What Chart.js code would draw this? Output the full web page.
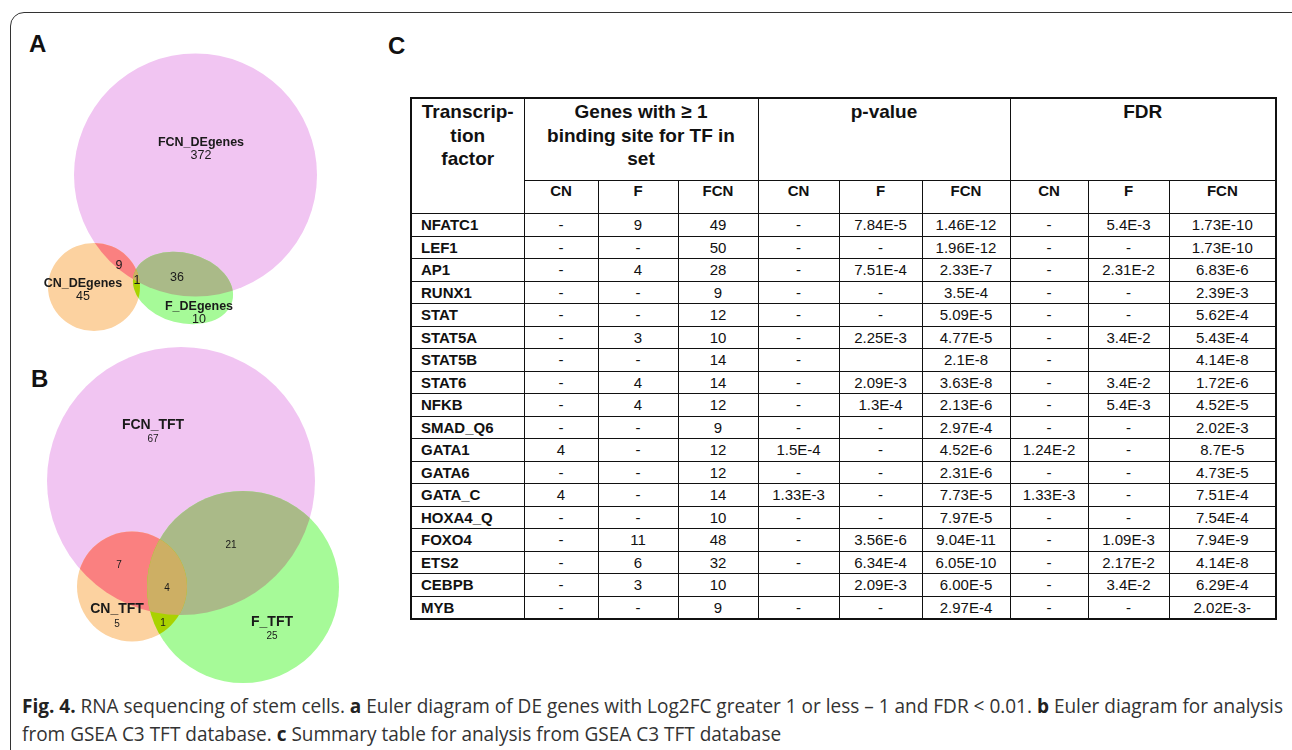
<!DOCTYPE html>
<html>
<head>
<meta charset="utf-8">
<script src="https://cdn.jsdelivr.net/npm/chart.js@4.4.1/dist/chart.umd.min.js"></script>
<style>
html, body { margin: 0; padding: 0; background: #fff; }
body { width: 1292px; height: 750px; overflow: hidden; position: relative; font-family: "Liberation Sans", Arial, Helvetica, sans-serif; color: #111; }
#frame { position: absolute; left: 10px; top: 12px; width: 1310px; height: 790px; border: 1.5px solid #333; border-radius: 14px; box-sizing: border-box; }
.panel { position: absolute; font-weight: bold; font-size: 24px; line-height: 24px; color: #111; }
#cA { position: absolute; left: 0; top: 20px; }
#cB { position: absolute; left: 0; top: 340px; }
#tbl { position: absolute; left: 410px; top: 97px; width: 865px; border-collapse: collapse; table-layout: fixed; border: 2px solid #111; }
#tbl td, #tbl th { border: 1.5px solid #111; padding: 0; font-size: 15px; overflow: hidden; white-space: nowrap; }
#tbl th { font-weight: bold; vertical-align: top; }
#tbl tr.h1 th { font-size: 19px; line-height: 23.5px; height: 80px; padding-top: 1px; white-space: normal; }
#tbl tr.h2 th { height: 32px; line-height: 20px; }
#tbl tbody td { height: 21.5px; line-height: 21px; text-align: center; vertical-align: middle; }
#tbl tbody td.name { text-align: left; padding-left: 9px; font-weight: bold; }
#cap { position: absolute; left: 22px; top: 692px; color: #333; font-family: "Liberation Sans Narrow", "Open Sans", "Noto Sans", sans-serif; font-size: 20px; transform-origin: 0 0; }
#cap .ln { white-space: nowrap; line-height: 28px; }
#cap b { color: #222; }
</style>
</head>
<body>
<div id="frame"></div>
<div class="panel" style="left:29px;top:32px;">A</div>
<div class="panel" style="left:31px;top:367px;">B</div>
<div class="panel" style="left:388px;top:34px;">C</div>
<canvas id="cA" width="360" height="330"></canvas>
<canvas id="cB" width="370" height="350"></canvas>
<table id="tbl"></table>
<div id="cap">
  <div class="ln"><b>Fig. 4.</b> RNA sequencing of stem cells. <b>a</b> Euler diagram of DE genes with Log2FC greater 1 or less &#8211; 1 and FDR &lt; 0.01. <b>b</b> Euler diagram for analysis</div>
  <div class="ln">from GSEA C3 TFT database. <b>c</b> Summary table for analysis from GSEA C3 TFT database</div>
</div>
<script>
// Euler A: DE genes
const setNamesA = ['FCN_DEgenes', 'CN_DEgenes', 'F_DEgenes'];
const uniqueA = [372, 45, 10];
const sharedA = [9, 36, 1]; // FCN∩CN, FCN∩F, FCN∩CN∩F

// Euler B: TFT
const setNamesB = ['FCN_TFT', 'CN_TFT', 'F_TFT'];
const uniqueB = [67, 5, 25];
const sharedB = [7, 21, 4, 1]; // FCN∩CN, FCN∩F, FCN∩CN∩F, CN∩F

// Table C
const tfNames = ['NFATC1', 'LEF1', 'AP1', 'RUNX1', 'STAT', 'STAT5A', 'STAT5B', 'STAT6', 'NFKB', 'SMAD_Q6',
  'GATA1', 'GATA6', 'GATA_C', 'HOXA4_Q', 'FOXO4', 'ETS2', 'CEBPB', 'MYB'];
const genesCN  = ['-', '-', '-', '-', '-', '-', '-', '-', '-', '-', '4', '-', '4', '-', '-', '-', '-', '-'];
const genesF   = ['9', '-', '4', '-', '-', '3', '-', '4', '4', '-', '-', '-', '-', '-', '11', '6', '3', '-'];
const genesFCN = ['49', '50', '28', '9', '12', '10', '14', '14', '12', '9', '12', '12', '14', '10', '48', '32', '10', '9'];
const pCN  = ['-', '-', '-', '-', '-', '-', '-', '-', '-', '-', '1.5E-4', '-', '1.33E-3', '-', '-', '-', '', '-'];
const pF   = ['7.84E-5', '-', '7.51E-4', '-', '-', '2.25E-3', '', '2.09E-3', '1.3E-4', '-', '-', '-', '-', '-', '3.56E-6', '6.34E-4', '2.09E-3', '-'];
const pFCN = ['1.46E-12', '1.96E-12', '2.33E-7', '3.5E-4', '5.09E-5', '4.77E-5', '2.1E-8', '3.63E-8', '2.13E-6', '2.97E-4',
  '4.52E-6', '2.31E-6', '7.73E-5', '7.97E-5', '9.04E-11', '6.05E-10', '6.00E-5', '2.97E-4'];
const fdrCN  = ['-', '-', '-', '-', '-', '-', '-', '-', '-', '-', '1.24E-2', '-', '1.33E-3', '-', '-', '-', '-', '-'];
const fdrF   = ['5.4E-3', '-', '2.31E-2', '-', '-', '3.4E-2', '', '3.4E-2', '5.4E-3', '-', '-', '-', '-', '-', '1.09E-3', '2.17E-2', '3.4E-2', '-'];
const fdrFCN = ['1.73E-10', '1.73E-10', '6.83E-6', '2.39E-3', '5.62E-4', '5.43E-4', '4.14E-8', '1.72E-6', '4.52E-5', '2.02E-3',
  '8.7E-5', '4.73E-5', '7.51E-4', '7.54E-4', '7.94E-9', '4.14E-8', '6.29E-4', '2.02E-3-'];

// Layout of the Euler fits (layout units, origin at FCN centre, y up)
const layoutA = {
  sets: [{x: 0, y: 0, rx: 121.5, ry: 121.5, rot: 0},
         {x: -101.5, y: -112, rx: 46, ry: 44, rot: 0},
         {x: -12.5, y: -113, rx: 51, ry: 35, rot: 15}],
  nameAt: [[5.5, 32], [-112.5, -109], [3.5, -132]],
  uniqueAt: [[5.5, 19], [-112.5, -122], [3.5, -145]],
  sharedAt: [[-76.5, -91], [-18.5, -103], [-58.5, -106]],
  xRange: [-195.5, 164.5], yRange: [-175, 155],
  nameFont: 'bold 12.5px "Liberation Sans", Arial, sans-serif',
  numFont: '12.5px "Liberation Sans", Arial, sans-serif'
};
const layoutB = {
  sets: [{x: 0, y: 0, rx: 134, ry: 134, rot: 0},
         {x: -49, y: -105.5, rx: 55, ry: 55, rot: 0},
         {x: 62, y: -106, rx: 96, ry: 96, rot: 0}],
  nameAt: [[-28, 56], [-64, -128], [91, -141]],
  uniqueAt: [[-28, 42], [-64, -143], [91, -155]],
  sharedAt: [[-62, -84], [50, -64], [-14, -107], [-18, -142]],
  xRange: [-181, 189], yRange: [-209, 141],
  nameFont: 'bold 14px "Liberation Sans", Arial, sans-serif',
  numFont: '10px "Liberation Sans", Arial, sans-serif'
};

const setColors = ['rgb(241,197,242)', 'rgb(252,210,160)', 'rgb(166,250,152)'];
const pairColors = [[0, 1, 'rgb(250,128,128)'], [0, 2, 'rgb(170,186,136)'], [1, 2, 'rgb(170,210,0)']];
const tripleColor = 'rgb(205,175,100)';

const eulerPlugin = {
  id: 'euler',
  afterDatasetsDraw(chart) {
    const ctx = chart.ctx;
    const xs = chart.scales.x, ys = chart.scales.y;
    const shapes = chart.data.datasets[0].data;
    const meta = chart.getDatasetMeta(0);
    const path = (i) => {
      const s = shapes[i], p = meta.data[i];
      const rx = Math.abs(xs.getPixelForValue(s.x + s.rx) - p.x);
      const ry = Math.abs(ys.getPixelForValue(s.y + s.ry) - p.y);
      ctx.beginPath();
      ctx.ellipse(p.x, p.y, rx, ry, s.rot * Math.PI / 180, 0, Math.PI * 2);
    };
    ctx.save();
    shapes.forEach((s, i) => { path(i); ctx.fillStyle = setColors[i]; ctx.fill(); });
    pairColors.forEach(([i, j, c]) => {
      ctx.save(); path(i); ctx.clip(); path(j); ctx.fillStyle = c; ctx.fill(); ctx.restore();
    });
    ctx.save(); path(0); ctx.clip(); path(1); ctx.clip(); path(2); ctx.fillStyle = tripleColor; ctx.fill(); ctx.restore();

    const lab = chart.data.datasets[1].data;
    const lmeta = chart.getDatasetMeta(1);
    ctx.textAlign = 'center';
    ctx.textBaseline = 'middle';
    ctx.fillStyle = '#1a1a1a';
    lab.forEach((d, i) => {
      const p = lmeta.data[i];
      ctx.font = d.bold ? chart.options.plugins.euler.nameFont : chart.options.plugins.euler.numFont;
      ctx.fillText(d.text, p.x, p.y);
    });
    ctx.restore();
  }
};

function makeEuler(id, names, unique, shared, lay) {
  const labels = [];
  names.forEach((n, i) => labels.push({x: lay.nameAt[i][0], y: lay.nameAt[i][1], text: n, bold: true}));
  unique.forEach((v, i) => labels.push({x: lay.uniqueAt[i][0], y: lay.uniqueAt[i][1], text: String(v)}));
  shared.forEach((v, i) => labels.push({x: lay.sharedAt[i][0], y: lay.sharedAt[i][1], text: String(v)}));
  return new Chart(document.getElementById(id), {
    type: 'scatter',
    data: {
      datasets: [
        {data: lay.sets, pointRadius: 0, pointHoverRadius: 0},
        {data: labels, pointRadius: 0, pointHoverRadius: 0}
      ]
    },
    options: {
      responsive: false,
      animation: false,
      events: [],
      layout: {padding: 0},
      scales: {
        x: {type: 'linear', min: lay.xRange[0], max: lay.xRange[1], display: false},
        y: {type: 'linear', min: lay.yRange[0], max: lay.yRange[1], display: false}
      },
      plugins: {
        legend: {display: false},
        tooltip: {enabled: false},
        euler: {nameFont: lay.nameFont, numFont: lay.numFont}
      }
    },
    plugins: [eulerPlugin]
  });
}

makeEuler('cA', setNamesA, uniqueA, sharedA, layoutA);
makeEuler('cB', setNamesB, uniqueB, sharedB, layoutB);

// Table C
const colW = [113, 74, 80, 80, 81, 83, 88, 78, 81, 107];
let html = '<colgroup>' + colW.map(w => '<col style="width:' + w + 'px">').join('') + '</colgroup>';
html += '<thead><tr class="h1"><th rowspan="2">Transcrip-<br>tion<br>factor</th>' +
  '<th colspan="3">Genes with &#8805; 1<br>binding site for TF in<br>set</th>' +
  '<th colspan="3">p-value</th><th colspan="3">FDR</th></tr>' +
  '<tr class="h2">' + ['CN', 'F', 'FCN', 'CN', 'F', 'FCN', 'CN', 'F', 'FCN'].map(t => '<th>' + t + '</th>').join('') + '</tr></thead><tbody>';
tfNames.forEach((n, i) => {
  const cells = [genesCN[i], genesF[i], genesFCN[i], pCN[i], pF[i], pFCN[i], fdrCN[i], fdrF[i], fdrFCN[i]];
  html += '<tr><td class="name">' + n + '</td>' + cells.map(c => '<td>' + c + '</td>').join('') + '</tr>';
});
html += '</tbody>';
document.getElementById('tbl').innerHTML = html;

// Caption: fit condensed text to the original line width
const cap = document.getElementById('cap');
const w = cap.querySelector('.ln').scrollWidth;
cap.style.transform = 'scaleX(' + (1261 / w) + ')';
</script>
</body>
</html>
